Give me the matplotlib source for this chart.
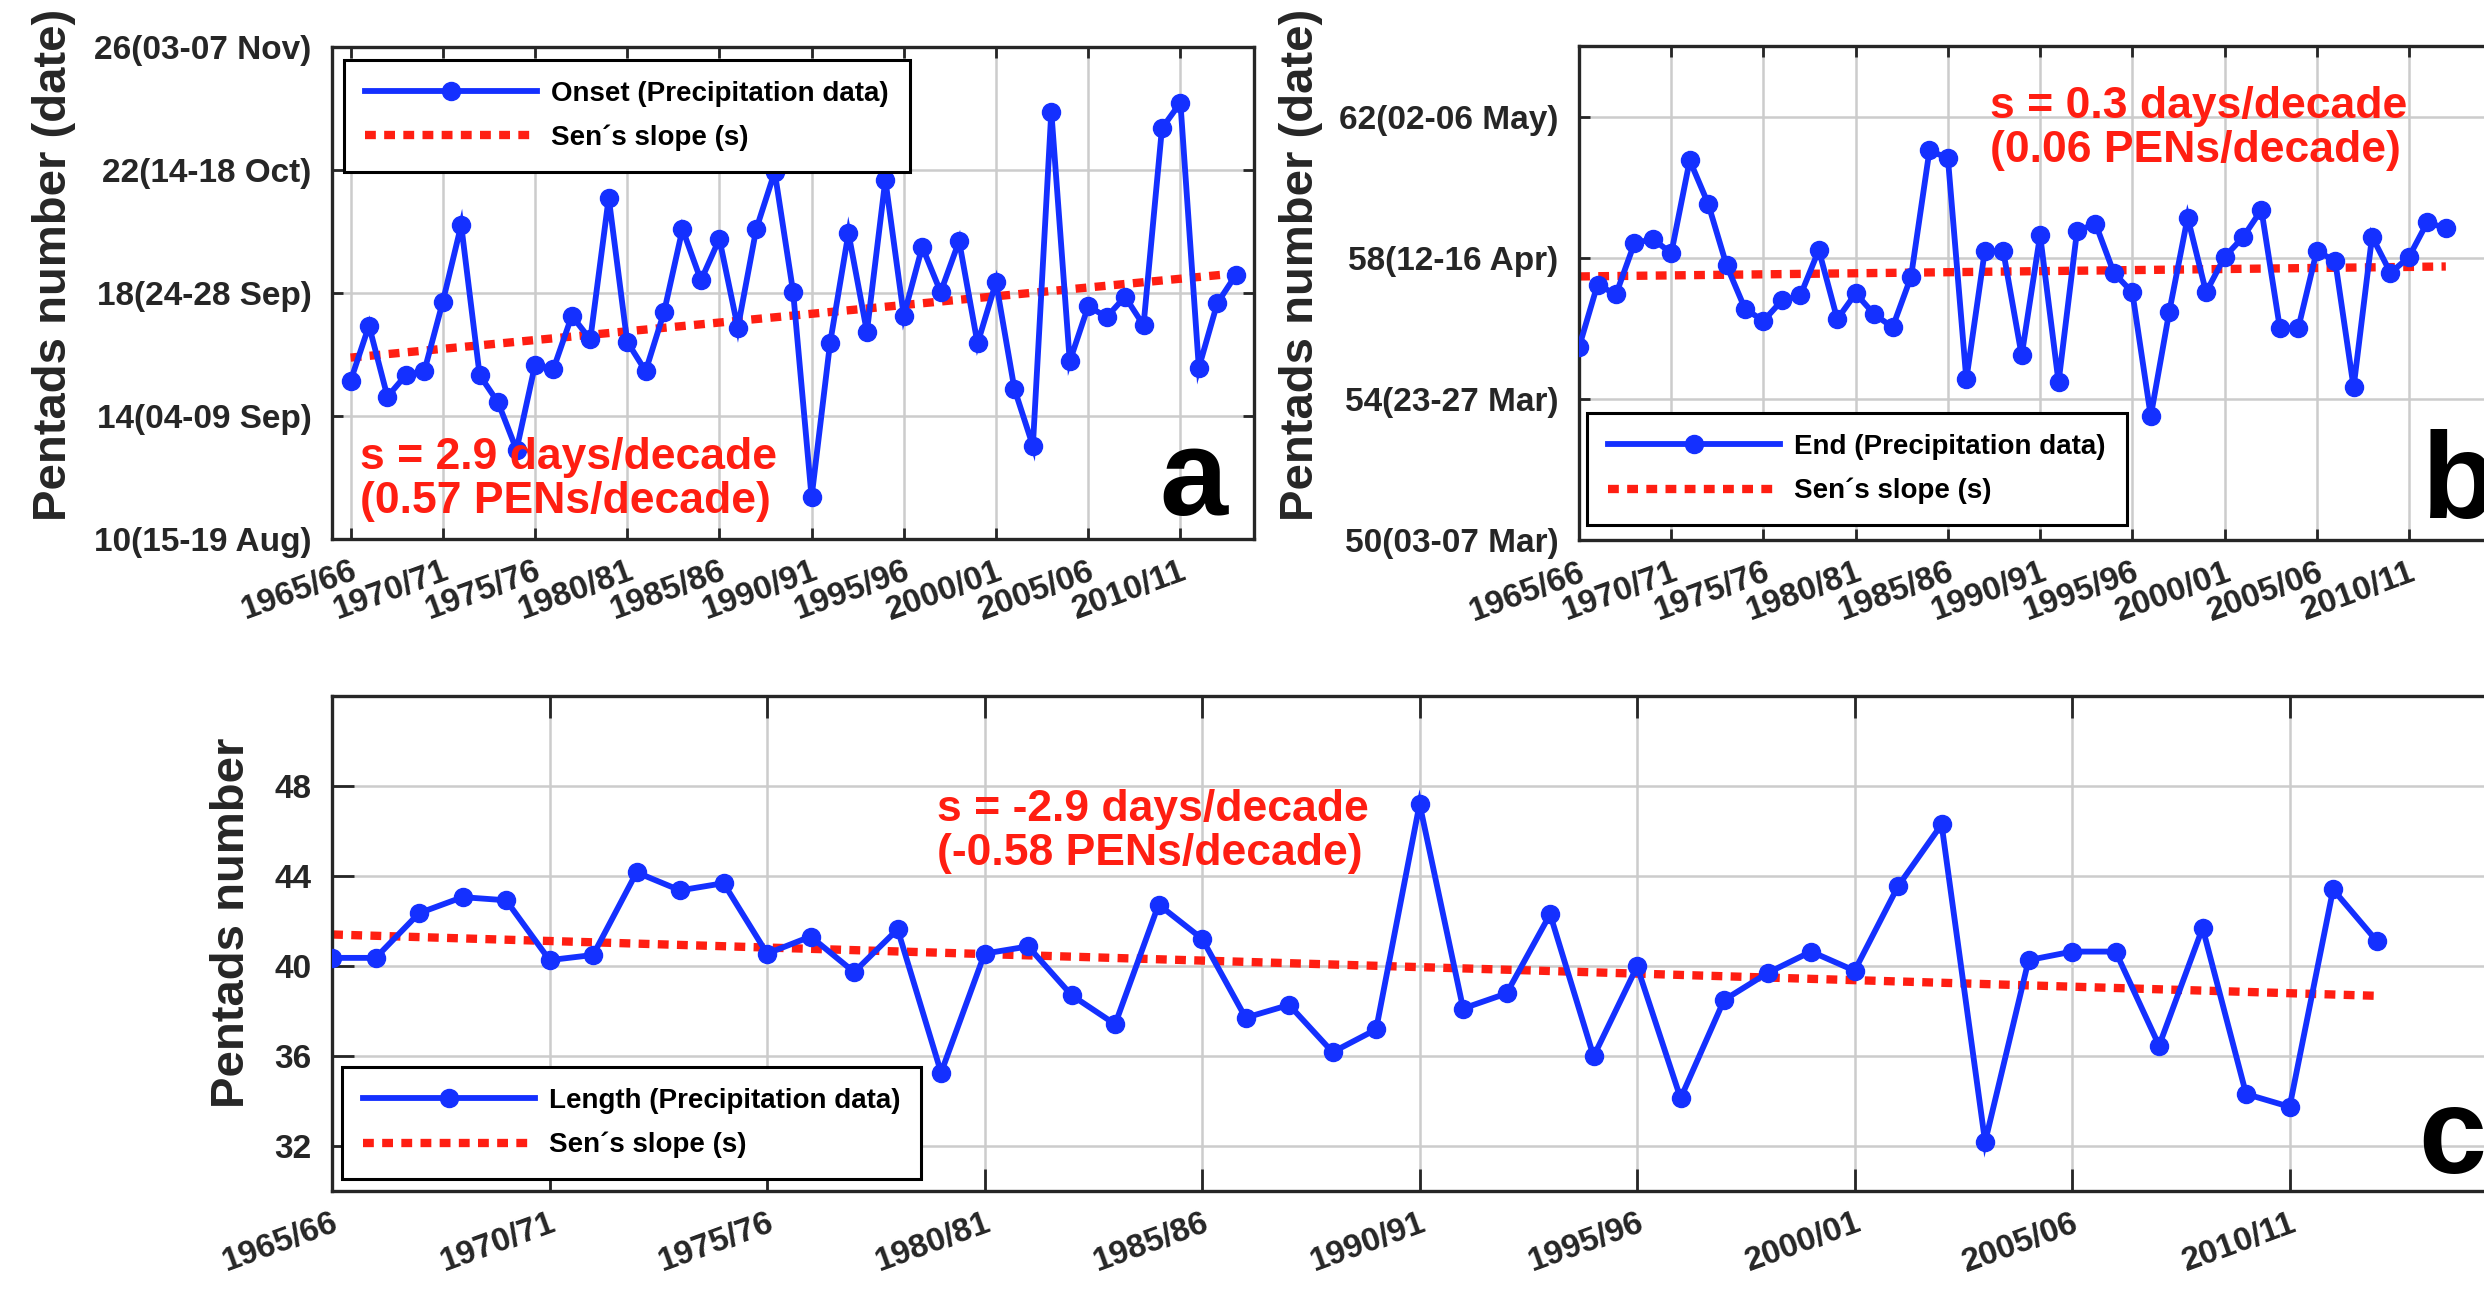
import numpy as np
import matplotlib.pyplot as plt

plt.rcParams['font.family'] = ['Liberation Sans', 'DejaVu Sans']
plt.rcParams['font.weight'] = 'bold'
plt.rcParams['axes.labelweight'] = 'bold'

# seasons 1965/66 ...
onset_years = list(range(1965, 2014))
onset = [15.14, 16.94, 14.63, 15.33, 15.46, 17.71, 20.21, 15.33, 14.44, 12.9,
         15.65, 15.53, 17.26, 16.49, 21.1, 16.42, 15.46, 17.38, 20.08, 18.41,
         19.76, 16.87, 20.08, 21.94, 18.03, 11.36, 16.36, 19.95, 16.74, 21.68,
         17.26, 19.5, 18.03, 19.69, 16.36, 18.35, 14.88, 13.03, 23.9, 15.78,
         17.57, 17.22, 17.88, 16.95, 23.36, 24.19, 15.57, 17.67, 18.58]

end_years = list(range(1965, 2013))
end = [55.47, 57.24, 56.96, 58.41, 58.53, 58.13, 60.76, 59.53, 57.78, 56.55,
       56.21, 56.79, 56.93, 58.22, 56.26, 56.99, 56.4, 56.03, 57.46, 61.04,
       60.82, 54.55, 58.19, 58.19, 55.23, 58.64, 54.47, 58.75, 58.97, 57.57,
       57.02, 53.51, 56.46, 59.14, 57.02, 58.02, 58.58, 59.36, 56.01, 56.01,
       58.19, 57.91, 54.33, 58.6, 57.57, 58.02, 59.01, 58.83]

length_years = list(range(1965, 2013))
length = [40.36, 40.36, 42.35, 43.06, 42.92, 40.26, 40.49, 44.16, 43.36, 43.68,
          40.55, 41.31, 39.73, 41.63, 35.26, 40.55, 40.87, 38.7, 37.41, 42.73,
          41.21, 37.7, 38.27, 36.17, 37.18, 47.2, 38.11, 38.78, 42.3, 35.98,
          39.98, 34.12, 38.49, 39.69, 40.64, 39.79, 43.55, 46.29, 32.18, 40.26,
          40.64, 40.64, 36.46, 41.69, 34.31, 33.74, 43.4, 41.12]

# Sen's slope lines: value at the first season and slope (PENs per decade)
sen_start = {'a': 15.9, 'b': 57.47, 'c': 41.4}
sen_slope = {'a': 0.57, 'b': 0.06, 'c': -0.58}

tick_years = list(range(1965, 2011, 5))
tick_labels = ['%d/%02d' % (y, (y + 1) % 100) for y in tick_years]

a_ticks = [10, 14, 18, 22, 26]
a_labels = ['10(15-19 Aug)', '14(04-09 Sep)', '18(24-28 Sep)', '22(14-18 Oct)', '26(03-07 Nov)']
b_ticks = [50, 54, 58, 62]
b_labels = ['50(03-07 Mar)', '54(23-27 Mar)', '58(12-16 Apr)', '62(02-06 May)']
c_ticks = [32, 36, 40, 44, 48]

BLUE = '#1430ff'
RED = '#ff1e12'
DARK = '#262626'

fig = plt.figure(figsize=(24.84, 12.92), dpi=100)
axa = fig.add_axes([0.1337, 0.5828, 0.3712, 0.3808])
axb = fig.add_axes([0.6357, 0.5820, 0.3712, 0.3824])
axc = fig.add_axes([0.1337, 0.0782, 0.8756, 0.3831])


def draw(ax, years, vals, key, label, ticklen):
    yrs = np.array(years)
    ax.plot(yrs, vals, '-o', color=BLUE, lw=4.2, ms=13, label=label,
            solid_joinstyle='miter', zorder=3)
    sen = sen_start[key] + sen_slope[key] / 10.0 * (yrs - yrs[0])
    ax.plot([yrs[0], yrs[-1]], [sen[0], sen[-1]], color=RED, lw=6,
            dashes=(1.3, 1.0), label='Sen\u00b4s slope (s)', zorder=2)
    ax.set_xticks(tick_years)
    ax.set_xticklabels(tick_labels, rotation=20, ha='right', rotation_mode='anchor')
    ax.grid(True, color='#cccccc', lw=1.8, zorder=0)
    ax.tick_params(direction='in', top=True, right=True, length=ticklen, width=2,
                   color=DARK, labelsize=24, labelcolor=DARK)
    ax.tick_params(axis='x', pad=12)
    ax.tick_params(axis='y', pad=15)
    for s in ax.spines.values():
        s.set_linewidth(2.4)
        s.set_color(DARK)


draw(axa, onset_years, onset, 'a', 'Onset (Precipitation data)', 8)
axa.set_xlim(1964, 2014)
axa.set_ylim(10, 26)
axa.set_yticks(a_ticks)
axa.set_yticklabels(a_labels)

draw(axb, end_years, end, 'b', 'End (Precipitation data)', 8)
axb.set_xlim(1965, 2015)
axb.set_ylim(50, 64)
axb.set_yticks(b_ticks)
axb.set_yticklabels(b_labels)

draw(axc, length_years, length, 'c', 'Length (Precipitation data)', 16)
axc.set_xlim(1965, 2015)
axc.set_ylim(30, 52)
axc.set_yticks(c_ticks)

# y labels
axa.set_ylabel('Pentads number (date)', fontsize=34, color=DARK, fontweight='bold')
axa.yaxis.set_label_coords(-0.278, 0.557)
axb.set_ylabel('Pentads number (date)', fontsize=34, color=DARK, fontweight='bold')
axb.yaxis.set_label_coords(-0.278, 0.557)
axc.set_ylabel('Pentads number', fontsize=34, color=DARK, fontweight='bold')
axc.yaxis.set_label_coords(-0.036, 0.541)

# legends
leg_kw = dict(fontsize=20, handlelength=6.2, numpoints=1, fancybox=False,
              edgecolor='k', framealpha=1, borderaxespad=0, borderpad=0.75,
              labelspacing=0.65, handletextpad=0.5)
for ax, loc, anchor in [(axa, 'upper left', (0.013, 0.974)),
                        (axb, 'lower left', (0.009, 0.030)),
                        (axc, 'lower left', (0.0046, 0.024))]:
    lg = ax.legend(loc=loc, bbox_to_anchor=anchor, **leg_kw)
    lg.get_frame().set_linewidth(2.2)
    lg.set_zorder(5)

# slope annotations
axa.text(0.030, 0.207, 's = 2.9 days/decade\n(0.57 PENs/decade)', transform=axa.transAxes,
         color=RED, fontsize=32, va='top', ha='left', linespacing=1.1)
axb.text(0.446, 0.919, 's = 0.3 days/decade\n(0.06 PENs/decade)', transform=axb.transAxes,
         color=RED, fontsize=32, va='top', ha='left', linespacing=1.1)
axc.text(0.278, 0.812, 's = -2.9 days/decade\n(-0.58 PENs/decade)', transform=axc.transAxes,
         color=RED, fontsize=32, va='top', ha='left', linespacing=1.1)

# panel letters
axa.text(0.971, 0.049, 'a', transform=axa.transAxes, fontsize=88, ha='right', va='baseline', color='k')
axb.text(0.914, 0.044, 'b', transform=axb.transAxes, fontsize=88, ha='left', va='baseline', color='k')
axc.text(0.959, 0.036, 'c', transform=axc.transAxes, fontsize=88, ha='left', va='baseline', color='k')

fig.savefig('out.png', dpi=100)
